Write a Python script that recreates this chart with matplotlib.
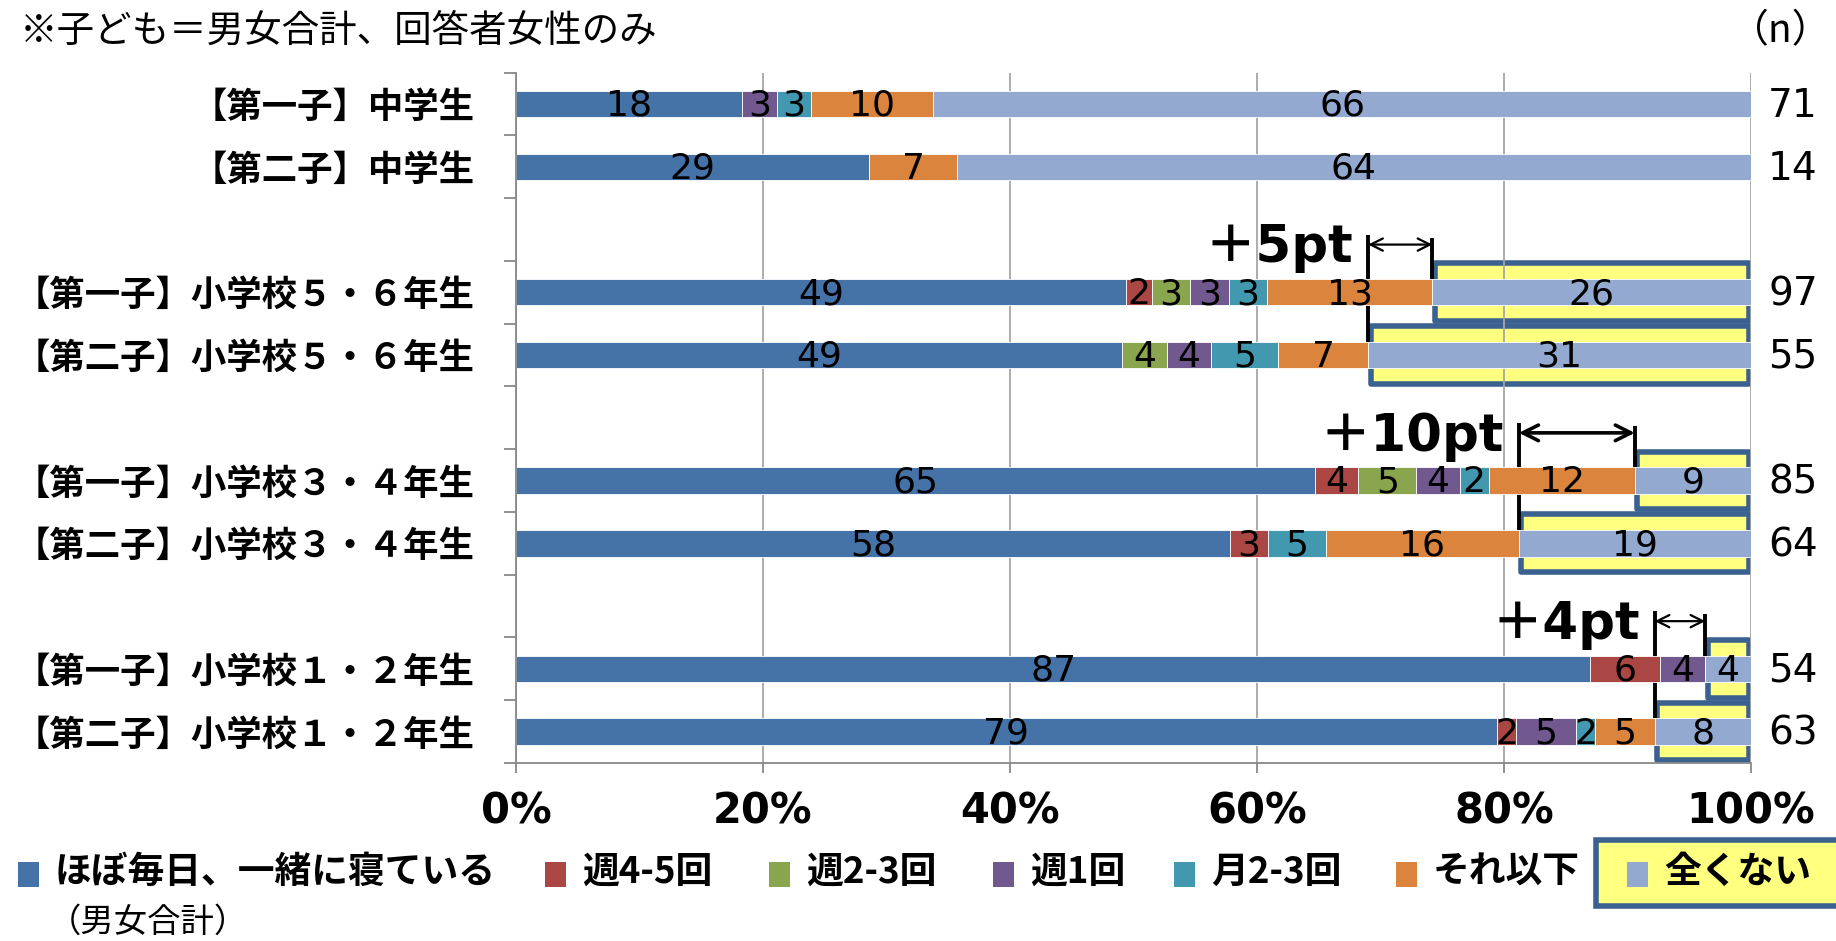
import matplotlib
matplotlib.use('Agg')
import matplotlib.pyplot as plt
from matplotlib.patches import Rectangle
import numpy as np

JP = ['Noto Sans CJK JP', 'DejaVu Sans']
NUM = ['DejaVu Sans', 'Noto Sans CJK JP']
plt.rcParams['font.family'] = NUM

# data (percent of respondents), one value per row, top to bottom
note = '※子ども＝男女合計、回答者女性のみ'
rows = ['【第一子】中学生', '【第二子】中学生',
        '【第一子】小学校５・６年生', '【第二子】小学校５・６年生',
        '【第一子】小学校３・４年生', '【第二子】小学校３・４年生',
        '【第一子】小学校１・２年生', '【第二子】小学校１・２年生']
series = ['ほぼ毎日、一緒に寝ている', '週4-5回', '週2-3回', '週1回',
          '月2-3回', 'それ以下', '全くない']
daily = [18.3, 28.6, 49.4, 49.1, 64.7, 57.8, 87.0, 79.4]
w45 = [0, 0, 2.1, 0, 3.5, 3.1, 5.6, 1.6]
w23 = [0, 0, 3.1, 3.6, 4.7, 0, 0, 0]
w1 = [2.8, 0, 3.1, 3.6, 3.5, 0, 3.7, 4.8]
m23 = [2.8, 0, 3.1, 5.4, 2.4, 4.7, 0, 1.6]
less = [9.9, 7.1, 13.4, 7.3, 11.8, 15.6, 0, 4.8]
never = [66.2, 64.3, 25.8, 31.0, 9.4, 18.8, 3.7, 7.8]
n_vals = [71, 14, 97, 55, 85, 64, 54, 63]
# (first child row, second child row, label)
gaps = [(2, 3, '＋5pt'), (4, 5, '＋10pt'), (6, 7, '＋4pt')]

colors = ['#4572A7', '#AA4643', '#89A54E', '#71588F', '#4198AF', '#DB843D', '#93A9CF']
values = [daily, w45, w23, w1, m23, less, never]

W, H = 1836, 941
fig = plt.figure(figsize=(W / 100, H / 100), dpi=100)
ax = fig.add_axes([516 / W, 1 - 763 / H, 1235 / W, (763 - 72.6) / H])

ypos = np.array([3 * (i // 2) + i % 2 + 0.5 for i in range(len(rows))])
bar_h = 0.42

left = np.zeros(len(rows))
for vals, col in zip(values, colors):
    vals = np.array(vals, dtype=float)
    ax.barh(ypos, vals, left=left, height=bar_h, color=col,
            edgecolor='white', linewidth=0.6, zorder=2)
    for y, l, v in zip(ypos, left, vals):
        if v > 0:
            ax.text(l + v / 2, y + 0.03, '%.0f' % v, ha='center', va='center',
                    fontsize=26, color='black', zorder=4)
    left += vals

# highlight boxes around 全くない
for i in range(2, len(rows)):
    x0 = 100 - never[i]
    ax.add_patch(Rectangle((x0 + 0.2, ypos[i] - 0.46), 99.8 - x0 - 0.2, 0.92,
                           facecolor='#FFFF80', edgecolor='#3A6190', lw=4,
                           joinstyle='round', zorder=0.3))

# difference brackets
for top, bot, lab in gaps:
    xl = 100 - never[bot]
    xr = 100 - never[top]
    yt = ypos[top] - 0.92
    ax.plot([xl, xl], [yt, ypos[bot] - bar_h / 2], color='black', lw=2.8,
            solid_capstyle='butt', zorder=1)
    ax.plot([xr, xr], [yt + 0.05, ypos[top] - bar_h / 2 + 0.05], color='black',
            lw=2.8, solid_capstyle='butt', zorder=1)
    lw = 2.6 if top == 4 else 1.6
    ax.annotate('', xy=(xr, ypos[top] - 0.76), xytext=(xl, ypos[top] - 0.76),
                arrowprops=dict(arrowstyle='<->', lw=lw, color='black',
                                mutation_scale=28 if top == 4 else 22,
                                shrinkA=0, shrinkB=0), zorder=3)
    ax.text(xl - 1.2, ypos[top] - 0.7, lab, ha='right', va='center',
            fontsize=37, fontweight='bold', family=NUM, zorder=4)

# n column
for y, n in zip(ypos, n_vals):
    ax.text(103.4, y + 0.03, str(n), ha='center', va='center', fontsize=28,
            clip_on=False)

ax.set_xlim(0, 100)
ax.set_ylim(11, 0)
ax.set_xticks(range(0, 101, 20))
ax.set_xticklabels(['%d%%' % v for v in range(0, 101, 20)],
                   fontsize=30, fontweight='bold')
ax.set_yticks(range(0, 12))
ax.set_yticklabels([])
ax.set_yticks(ypos, minor=True)
ax.set_yticklabels(rows, minor=True, fontsize=25.5, fontweight='bold', family=JP)
ax.tick_params(axis='y', which='major', direction='out', length=8.5,
               width=1.3, color='#888888')
ax.tick_params(axis='y', which='minor', length=0, pad=30)
ax.tick_params(axis='x', direction='out', length=7, width=1.3,
               color='#888888', pad=13)
ax.grid(axis='x', color='#A6A6A6', lw=1.3)
ax.set_axisbelow(True)
for s in ['top', 'right']:
    ax.spines[s].set_visible(False)
for s in ['left', 'bottom']:
    ax.spines[s].set_color('#888888')
    ax.spines[s].set_linewidth(1.3)

# overlay in pixel coordinates for header and legend
ov = fig.add_axes([0, 0, 1, 1])
ov.set_xlim(0, W)
ov.set_ylim(H, 0)
ov.axis('off')
ov.text(20, 31, note, fontsize=27, family=JP, va='center', ha='left')
ov.text(1831, 31, '（n）', fontsize=28, family=JP, va='center', ha='right')

sq_x = [18, 545, 769, 993, 1174, 1396, 1627]
ov.add_patch(Rectangle((1596, 840), 300, 66, facecolor='#FFFF80',
                       edgecolor='#3A6190', lw=4, clip_on=False))
for x, name, col in zip(sq_x, series, colors):
    ov.add_patch(Rectangle((x, 862), 21, 25, facecolor=col, edgecolor='none'))
    ov.text(x + 37, 872, name, fontsize=26.5, fontweight='bold', family=JP,
            va='center', ha='left')
ov.text(48, 922, '（男女合計）', fontsize=24, family=JP, va='center', ha='left')

fig.savefig('out.png', dpi=100)
